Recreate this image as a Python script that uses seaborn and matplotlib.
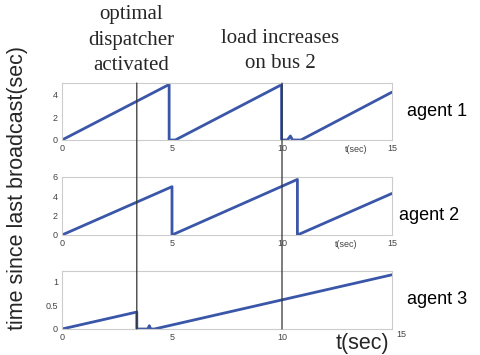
import matplotlib
matplotlib.use("Agg")
import matplotlib.pyplot as plt
import matplotlib.transforms as mtransforms
import seaborn as sns
import pandas as pd
from matplotlib.patches import ConnectionPatch

sns.set_theme(style="white")
plt.rcParams['font.family'] = ['Liberation Sans', 'DejaVu Sans']

# ---- data ----
t_agent1 = [0, 4.87, 4.87, 5.15, 9.98, 9.98, 10.25, 10.38, 10.48, 10.86, 15]
v_agent1 = [0, 4.87, 0.0, 0.0, 4.85, 0.0, 0.0, 0.35, 0.0, 0.0, 4.2]
t_agent2 = [0, 5.0, 5.0, 10.7, 10.7, 15]
v_agent2 = [0, 5.0, 0.0, 5.75, 0.0, 4.3]
t_agent3 = [0, 3.4, 3.4, 3.9, 3.97, 4.03, 4.2, 15]
v_agent3 = [0, 0.36, 0.0, 0.0, 0.07, 0.0, 0.0, 1.15]

agent_names = ["agent 1", "agent 2", "agent 3"]
yticks = [[0, 2, 4], [0, 2, 4, 6], [0, 0.5, 1]]
ytick_labels = [["0", "2", "4"], ["0", "2", "4", "6"], ["0", "0.5", "1"]]
ylims = [(0, 5.0), (0, 6.0), (0, 1.23)]
xticks = [0, 5, 10, 15]
event_times = [3.4, 10.0]
event_labels = ["optimal\ndispatcher\nactivated", "load increases\non bus 2"]

line_color = "#3a56a8"

fig = plt.figure(figsize=(4.8, 3.55), dpi=100)
W, H = 480, 355
boxes = [(62, 392, 83, 140), (62, 392, 177, 235), (62, 392, 271, 329)]
axes = []
for (l, r, t, b) in boxes:
    ax = fig.add_axes([l / W, 1 - b / H, (r - l) / W, (b - t) / H])
    axes.append(ax)

series = [(t_agent1, v_agent1), (t_agent2, v_agent2), (t_agent3, v_agent3)]
for i, (ax, (tt, vv)) in enumerate(zip(axes, series)):
    df = pd.DataFrame({"t": tt, "v": vv})
    sns.lineplot(data=df, x="t", y="v", ax=ax, sort=False, estimator=None,
                 color=line_color, linewidth=2.0)
    ax.set_xlim(0, 15)
    ax.set_ylim(*ylims[i])
    ax.set_xticks(xticks)
    ax.set_xticklabels([str(x) for x in xticks])
    ax.set_yticks(yticks[i])
    ax.set_yticklabels(ytick_labels[i])
    ax.set_xlabel("")
    ax.set_ylabel("")
    ax.tick_params(axis="both", length=0, labelsize=6.5, labelcolor="#444444", pad=3)
    for s in ax.spines.values():
        s.set_color("#cccccc")
        s.set_linewidth(0.8)
    ax.text(1.045 if i != 1 else 1.02, 0.5 if i != 1 else 0.33, agent_names[i],
            transform=ax.transAxes, fontsize=13, va="center", ha="left", color="black")

# last tick label of the bottom panel sits to the right of the big axis title
lbl15 = axes[2].get_xticklabels()[-1]
lbl15.set_transform(lbl15.get_transform() +
                    mtransforms.ScaledTranslation(9 / 100, 3 / 100, fig.dpi_scale_trans))

axes[0].text(0.89, -0.16, "t(sec)", transform=axes[0].transAxes, fontsize=6.5,
             color="#444444", ha="center", va="center")
axes[1].text(0.86, -0.17, "t(sec)", transform=axes[1].transAxes, fontsize=6.5,
             color="#444444", ha="center", va="center")
fig.text(362 / W, 1 - 343 / H, "t(sec)", fontsize=15.5, ha="center", va="center")

fig.text(18 / W, 1 - 188 / H, "time since last broadcast(sec)", rotation=90,
         fontsize=15.5, ha="center", va="center")

# event vertical lines spanning all panels
for et in event_times:
    cp = ConnectionPatch(xyA=(et, ylims[0][1]), coordsA="data", axesA=axes[0],
                         xyB=(et, 0), coordsB="data", axesB=axes[2],
                         color="#333333", linewidth=0.9)
    fig.add_artist(cp)

fig.text(131 / W, 1 - 40 / H, event_labels[0], family=["Liberation Serif"],
         fontsize=15, ha="center", va="center", linespacing=1.45)
fig.text(280 / W, 1 - 51 / H, event_labels[1], family=["Liberation Serif"],
         fontsize=15, ha="center", va="center", linespacing=1.45)

fig.savefig("out.png", dpi=100)
